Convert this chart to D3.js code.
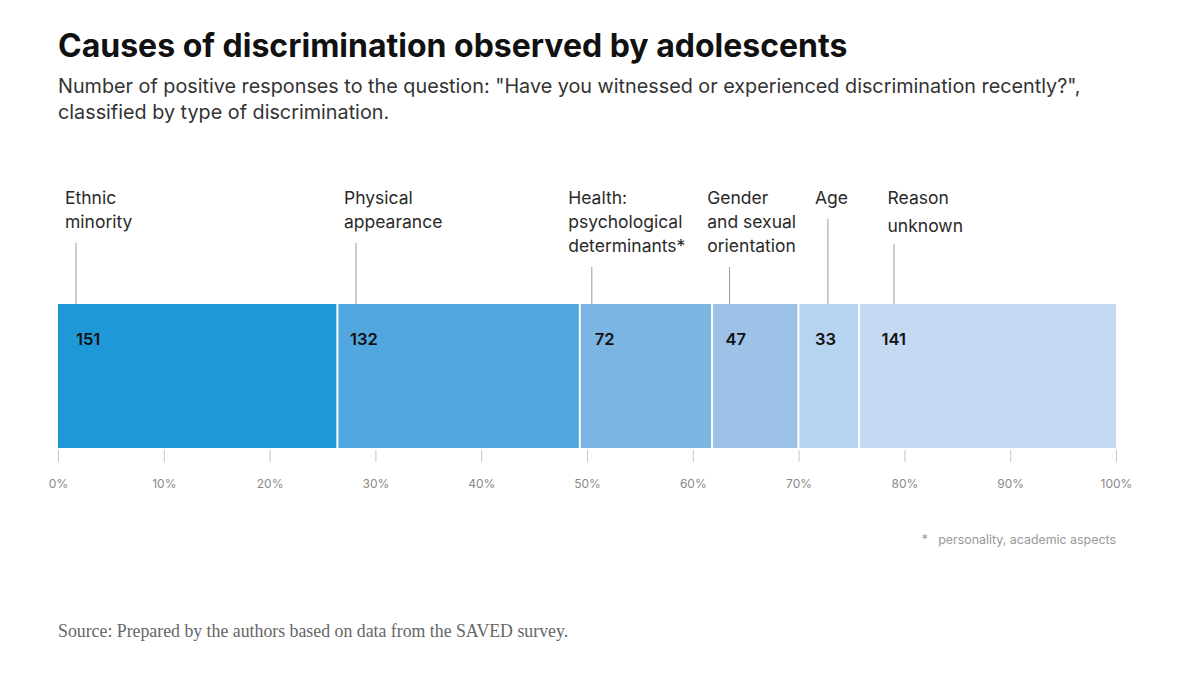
<!DOCTYPE html>
<html>
<head>
<meta charset="utf-8">
<script src="https://cdn.jsdelivr.net/npm/d3@7"></script>
<style>
  html, body { margin: 0; padding: 0; background: #fff; }
  svg { display: block; }
</style>
</head>
<body>
<svg id="chart" width="1200" height="675"></svg>
<script>
// ---- data ----
const categories = ["Ethnic minority", "Physical appearance", "Health: psychological determinants*", "Gender and sexual orientation", "Age", "Reason unknown"];
const labelLines = [["Ethnic", "minority"], ["Physical", "appearance"], ["Health:", "psychological", "determinants*"], ["Gender", "and sexual", "orientation"], ["Age"], ["Reason", "unknown"]];
const values = [151, 132, 72, 47, 33, 141];
const colors = ["#1e98d7", "#52a7de", "#7bb5e2", "#9cc3e7", "#b6d3ef", "#c4d9f2"];
const tickValues = [0, 0.1, 0.2, 0.3, 0.4, 0.5, 0.6, 0.7, 0.8, 0.9, 1.0];
// annotation layout (offsets from each segment's start)
const labelDx = [7, 8.6, -9.6, -2.8, 18.6, 30.5];
const leaderDx = [18, 20.6, 14, 19.5, 31.5, 37];
const leaderTop = [243, 243, 267, 267, 219, 244];
const valueDx = [18, 14.6, 17, 15.5, 18.6, 24.5];

const svg = d3.select("#chart");
const font = "'Inter', 'Lato', sans-serif";

const total = d3.sum(values);
let cum = 0;
const segs = values.map((v, i) => { const s = { i, v, x0: cum / total, x1: (cum + v) / total }; cum += v; return s; });

const x = d3.scaleLinear().domain([0, 1]).range([58, 1116]);
const barTop = 304, barBottom = 448;
const last = segs.length - 1;

// title & subtitle
svg.append("text").attr("x", 58).attr("y", 57)
  .attr("font-family", font).attr("font-weight", 700).attr("font-size", 32)
  .attr("fill", "#111")
  .text("Causes of discrimination observed by adolescents");
const sub = svg.append("text").attr("font-family", font).attr("font-size", 19.8).attr("fill", "#333");
sub.append("tspan").attr("x", 58).attr("y", 93).text("Number of positive responses to the question: \"Have you witnessed or experienced discrimination recently?\",");
sub.append("tspan").attr("x", 58).attr("y", 119).text("classified by type of discrimination.");

// bars (white 2px separator just after each boundary)
const segStart = d => d.i ? x(d.x0) + 3 : x(d.x0);
const segEnd = d => d.i < last ? x(d.x1) + 1 : x(d.x1);
svg.append("g").selectAll("rect").data(segs).join("rect")
  .attr("x", segStart)
  .attr("width", d => segEnd(d) - segStart(d))
  .attr("y", barTop).attr("height", barBottom - barTop)
  .attr("fill", d => colors[d.i]);

// value labels
svg.append("g").selectAll("text").data(segs).join("text")
  .attr("x", d => x(d.x0) + valueDx[d.i])
  .attr("y", 345)
  .attr("font-family", font).attr("font-weight", 600).attr("font-size", 16.5)
  .attr("fill", "#111")
  .text(d => d.v);

// leader lines
svg.append("g").selectAll("line").data(segs).join("line")
  .attr("x1", d => x(d.x0) + leaderDx[d.i]).attr("x2", d => x(d.x0) + leaderDx[d.i])
  .attr("y1", d => leaderTop[d.i]).attr("y2", barTop)
  .attr("stroke", "#999").attr("stroke-width", 1);

// category labels
const lab = svg.append("g").selectAll("text").data(segs).join("text")
  .attr("font-family", font).attr("font-size", 17.5).attr("fill", "#2a2a2a");
lab.each(function(d) {
  const t = d3.select(this);
  const lh = d.i === 5 ? 28 : 24;
  labelLines[d.i].forEach((ln, k) => {
    t.append("tspan").attr("x", x(d.x0) + labelDx[d.i]).attr("y", 204 + k * lh).text(ln);
  });
});

// axis
const axis = d3.axisBottom(x).tickValues(tickValues).tickSize(12).tickPadding(17)
  .tickFormat(d3.format(".0%"));
const ag = svg.append("g").attr("transform", `translate(0,${barBottom + 2})`).call(axis);
ag.select(".domain").remove();
ag.selectAll(".tick line").attr("stroke", "#c8c8c8");
ag.selectAll(".tick text").attr("font-family", font).attr("font-size", 12).attr("fill", "#8a8a8a");

// footnote
svg.append("text").attr("x", 1116).attr("y", 544).attr("text-anchor", "end")
  .attr("font-family", font).attr("font-size", 12.4).attr("fill", "#999")
  .attr("xml:space", "preserve")
  .text("*   personality, academic aspects");

// source
svg.append("text").attr("x", 58).attr("y", 637)
  .attr("font-family", "'Liberation Serif', 'DejaVu Serif', serif").attr("font-size", 17.8).attr("fill", "#666")
  .text("Source: Prepared by the authors based on data from the SAVED survey.");
</script>
</body>
</html>
